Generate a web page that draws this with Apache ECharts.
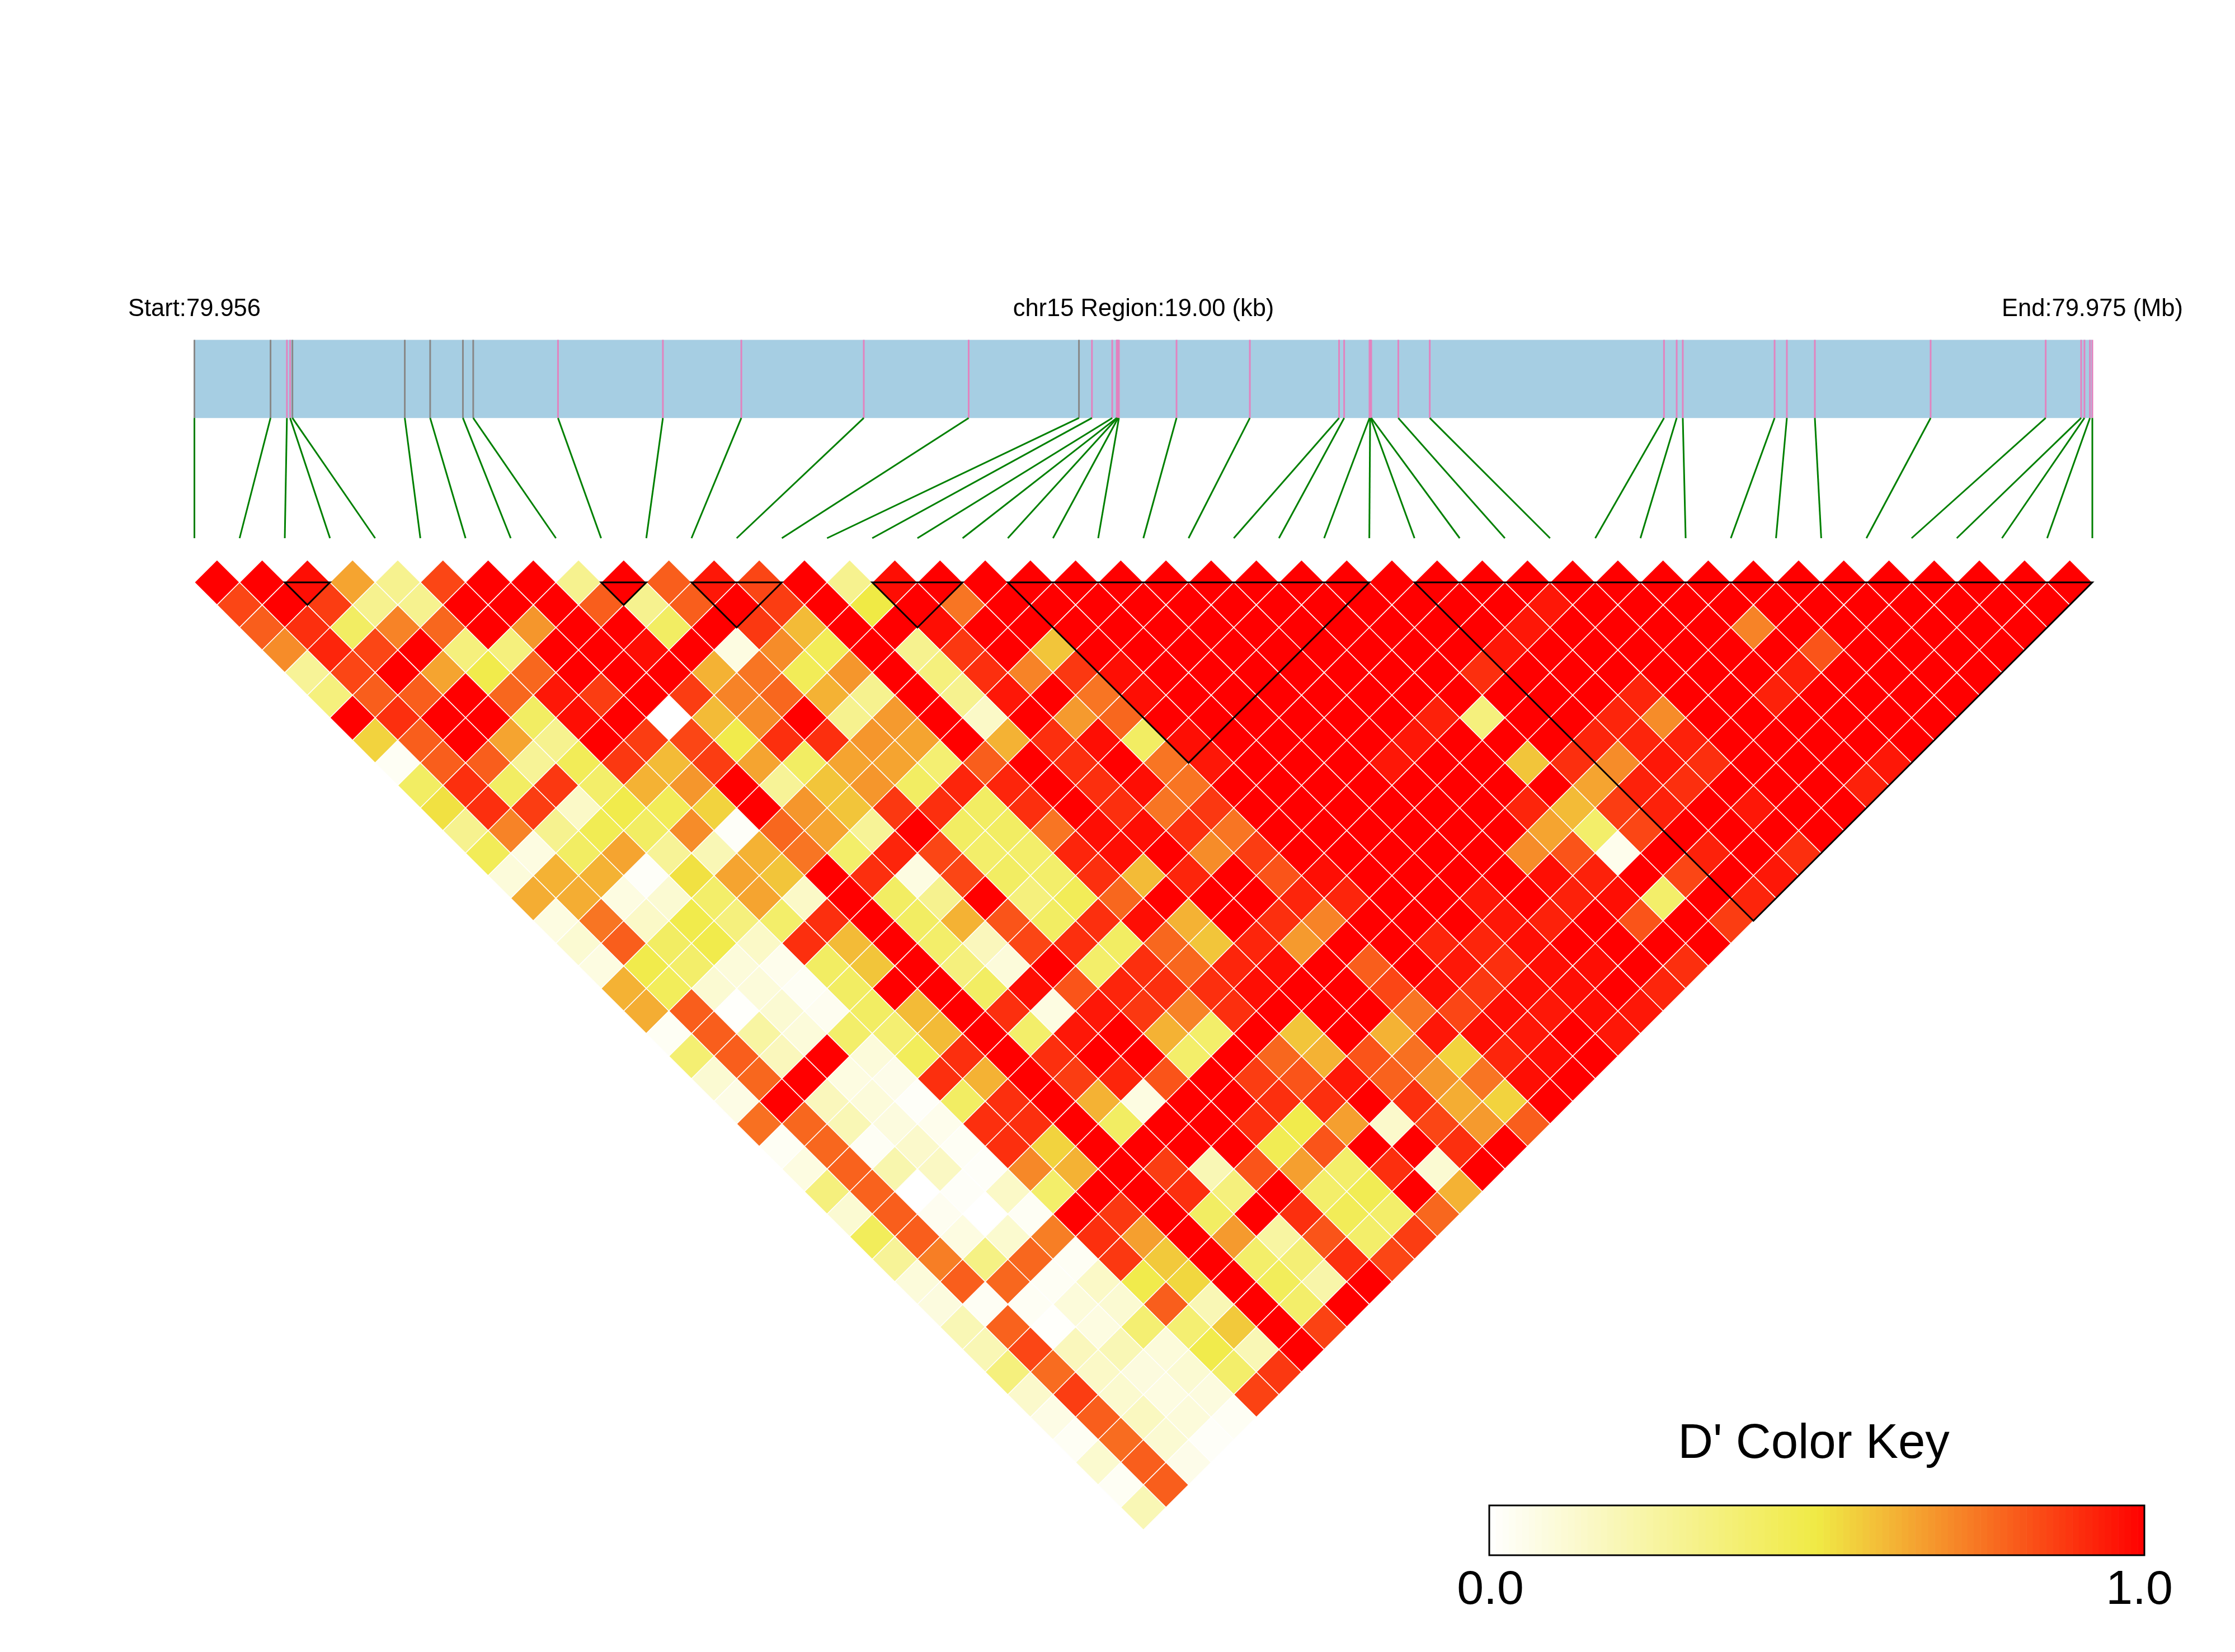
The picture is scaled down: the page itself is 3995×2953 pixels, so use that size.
<!DOCTYPE html>
<html>
<head>
<meta charset="utf-8">
<style>html,body{margin:0;padding:0;background:#fff}#c{width:3995px;height:2953px}</style>
<script src="https://cdn.jsdelivr.net/npm/echarts@6/dist/echarts.min.js"></script>
</head>
<body>
<div id="c"></div>
<script>
// SNP positions along the 19.00 kb region
const snpKb=[0,0.762,0.926,0.958,0.981,2.106,2.360,2.688,2.791,3.640,4.690,5.475,6.701,7.751,8.855,8.985,9.188,9.233,9.238,9.247,9.255,9.832,10.566,11.459,11.510,11.764,11.770,11.775,11.781,12.052,12.367,14.712,14.839,14.900,15.819,15.942,16.222,17.381,18.533,18.888,18.921,18.976,19.0];
const graySnps=[0,1,4,5,6,7,8,14];
const blockStart=[2,9,11,15,18,27];
const blockEnd=[3,10,13,17,26,42];
const startLabel='Start:79.956', midLabel='chr15 Region:19.00 (kb)', endLabel='End:79.975 (Mb)', keyTitle="D' Color Key";
const keyLowLabel='0.0', keyHighLabel='1.0';
const regionKb=19;
// D' x 100, by SNP separation (row 0 = neighbouring SNPs)
const row00=[100,100,97,65,30,85,100,100,30,100,80,95,85,100,30,97,100,100,100,100,100,100,100,100,100,100,100,100,100,100,100,100,100,100,100,100,100,100,100,100,100,100];
const row01=[85,100,87,30,30,100,100,100,80,30,80,100,87,100,50,100,75,100,100,100,100,100,100,100,100,100,100,100,100,95,100,100,100,100,100,100,100,100,100,100,100];
const row02=[80,90,42,72,78,100,68,100,100,42,100,88,60,100,100,97,100,100,100,100,100,100,100,100,100,100,100,100,95,100,100,100,100,72,100,100,100,100,100,100];
const row03=[70,92,85,100,35,35,100,100,97,100,8,70,45,100,30,88,100,58,100,100,100,100,100,100,100,100,100,95,100,100,100,100,100,100,82,100,100,100,100];
const row04=[28,85,100,65,48,78,100,100,100,62,75,45,68,100,35,90,72,88,97,100,100,100,100,100,100,100,90,100,100,100,100,100,100,93,100,100,100,100];
const row05=[35,80,80,100,78,95,87,100,87,72,78,62,30,100,30,95,100,75,97,100,100,100,100,100,100,100,100,100,100,92,100,100,93,100,100,100,100];
const row06=[100,90,100,100,42,97,100,0,60,70,100,30,67,100,15,100,67,78,100,100,100,100,100,100,93,35,100,100,92,70,100,100,100,100,100,100];
const row07=[55,80,100,65,30,100,87,85,48,90,90,68,65,100,62,90,97,42,97,100,100,100,100,95,100,100,100,92,92,93,100,100,100,100,100];
const row08=[3,80,80,28,45,88,60,87,65,42,65,65,38,80,100,90,100,75,95,100,100,100,95,100,100,58,90,70,95,90,100,100,100,95];
const row09=[42,90,42,88,40,62,68,100,28,58,68,42,92,92,100,90,97,75,100,100,100,100,100,100,100,100,65,93,90,100,100,100,93];
const row10=[52,90,87,15,48,45,55,100,68,58,88,90,42,90,100,90,75,88,100,100,100,100,100,100,92,60,87,93,100,95,100,100];
const row11=[30,72,30,46,42,70,2,78,65,28,100,42,42,75,97,97,90,75,100,100,100,100,100,100,65,40,85,100,100,100,100];
const row12=[45,8,42,65,28,20,62,75,40,92,85,40,40,92,97,100,70,87,100,100,100,100,100,70,82,5,100,93,100,90];
const row13=[10,62,62,2,52,65,58,100,90,8,85,42,40,90,60,92,100,82,97,100,100,100,100,97,93,100,85,100,95];
const row14=[63,63,8,12,40,65,15,100,42,30,100,35,45,78,100,100,100,92,92,100,100,95,100,93,97,40,100,92];
const row15=[8,75,15,48,35,40,90,100,42,62,82,42,90,97,62,100,90,72,100,100,100,95,93,100,82,100,87];
const row16=[12,80,42,48,15,90,60,100,40,18,85,90,42,78,58,92,67,100,100,92,92,97,100,100,100,100];
const row17=[8,48,40,10,5,42,58,100,35,10,100,40,90,78,92,97,100,80,100,95,90,97,97,100,90];
const row18=[62,44,12,10,3,42,100,100,42,97,82,92,90,90,97,100,100,85,97,88,97,97,100,92];
const row19=[63,80,1,12,4,42,60,100,90,8,95,88,72,90,100,100,100,75,85,97,95,97,95];
const row20=[3,80,25,10,40,38,60,100,40,95,100,62,40,100,58,100,62,95,97,95,100,95];
const row21=[38,80,18,100,10,44,90,100,90,100,100,40,100,78,62,82,76,55,92,97,100];
const row22=[12,78,100,8,6,90,62,100,87,92,82,100,87,82,95,79,68,75,97,100];
const row23=[7,100,18,10,2,42,90,100,62,8,100,100,90,90,100,90,63,55,100];
const row24=[76,78,20,9,5,90,90,100,42,100,100,90,48,66,14,85,67,80];
const row25=[3,78,3,14,3,90,55,100,100,100,100,46,82,100,100,90,100];
const row26=[8,79,22,16,2,71,62,100,87,20,82,66,40,90,12,100];
const row27=[35,79,0,2,15,40,100,100,90,35,100,40,46,100,62];
const row28=[12,80,4,0,3,100,88,100,42,100,90,45,40,78];
const row29=[44,80,8,13,73,90,66,100,67,25,82,40,87];
const row30=[28,73,33,78,3,88,57,100,40,37,90,85];
const row31=[10,80,78,3,15,48,54,100,44,23,100];
const row32=[9,3,3,10,12,80,20,100,40,100];
const row33=[20,79,1,8,38,38,57,100,86];
const row34=[20,85,18,20,10,48,20,100];
const row35=[35,77,15,9,12,40,88];
const row36=[14,87,13,8,9,86];
const row37=[7,80,17,10,3];
const row38=[3,77,12,2];
const row39=[13,80,6];
const row40=[3,80];
const row41=[20];
const rows=[row00,row01,row02,row03,row04,row05,row06,row07,row08,row09,row10,row11,row12,row13,row14,row15,row16,row17,row18,row19,row20,row21,row22,row23,row24,row25,row26,row27,row28,row29,row30,row31,row32,row33,row34,row35,row36,row37,row38,row39,row40,row41];
const keySteps=100;

const cellData=[];
rows.forEach((row,r)=>row.forEach((v,i)=>cellData.push([i,r,v/100])));
const keyData=[];
for(let k=0;k<keySteps;k++)keyData.push([k/keySteps,(k+1)/keySteps,(k+0.5)/keySteps]);
const nSnp=snpKb.length, lastSnp=nSnp-1;
const trackFloor=0.606;
const FONT='"Liberation Sans",Arial,sans-serif';
const textStyle=(text,size)=>({text,fontFamily:FONT,fontSize:size,fill:'#000',textAlign:'center',textVerticalAlign:'middle'});

const option={
  animation:false,
  backgroundColor:'#fff',
  graphic:[
    {type:'text',x:347.5,y:553,style:textStyle(startLabel,43.5)},
    {type:'text',x:2044,y:553,style:textStyle(midLabel,43.5)},
    {type:'text',x:3740,y:553,style:textStyle(endLabel,43.5)},
    {type:'text',x:3242,y:2582,style:textStyle(keyTitle,87)},
    {type:'text',x:2664,y:2843,style:textStyle(keyLowLabel,86)},
    {type:'text',x:3824,y:2843,style:textStyle(keyHighLabel,86)}
  ],
  grid:[
    {left:347.5,top:607.5,width:3392.5,height:354.5,show:false},
    {left:347.5,top:1000.7,width:3392.5,height:1734.2,show:false},
    {left:2662,top:2691,width:1171,height:89,show:false}
  ],
  xAxis:[
    {gridIndex:0,type:'value',min:0,max:regionKb,show:false},
    {gridIndex:1,type:'value',min:0,max:lastSnp,show:false},
    {gridIndex:2,type:'value',min:0,max:1,show:false}
  ],
  yAxis:[
    {gridIndex:0,type:'value',min:0,max:1,show:false},
    {gridIndex:1,type:'value',min:-1,max:lastSnp,inverse:true,show:false},
    {gridIndex:2,type:'value',min:0,max:1,show:false}
  ],
  visualMap:{show:false,type:'continuous',min:0,max:1,dimension:2,seriesIndex:[3,5],inRange:{color:['#FFFFFF','#F0EA45','#FF0000']}},
  series:[
    {type:'custom',name:'track',xAxisIndex:0,yAxisIndex:0,silent:true,clip:false,data:[[0,regionKb]],
     renderItem:(p,api)=>{const a=api.coord([api.value(0),1]),b=api.coord([api.value(1),trackFloor]);
       return {type:'rect',shape:{x:a[0],y:a[1],width:b[0]-a[0],height:b[1]-a[1]},style:{fill:'#A6CEE3'}};}},
    {type:'custom',name:'snp marks',xAxisIndex:0,yAxisIndex:0,silent:true,clip:false,
     data:snpKb.map((p,i)=>[p,i]),
     renderItem:(p,api)=>{const a=api.coord([api.value(0),1]),b=api.coord([api.value(0),trackFloor]);
       return {type:'line',shape:{x1:a[0],y1:a[1],x2:b[0],y2:b[1]},
         style:{stroke:graySnps.includes(api.value(1))?'#888888':'#E283BF',lineWidth:3}};}},
    {type:'custom',name:'snp connectors',xAxisIndex:0,yAxisIndex:0,silent:true,clip:false,
     data:snpKb.map((p,i)=>[p,i*regionKb/lastSnp]),
     renderItem:(p,api)=>{const a=api.coord([api.value(0),trackFloor]),b=api.coord([api.value(1),0]);
       return {type:'line',shape:{x1:a[0],y1:a[1],x2:b[0],y2:b[1]},style:{stroke:'#008000',lineWidth:3}};}},
    {type:'custom',name:"D'",xAxisIndex:1,yAxisIndex:1,silent:true,clip:false,data:cellData,z:2,
     renderItem:(p,api)=>{const i=api.value(0),r=api.value(1),c=i+(r+1)/2;
       const pts=[[c-0.5,r],[c,r-1],[c+0.5,r],[c,r+1]].map(q=>api.coord(q));
       return {type:'polygon',shape:{points:pts},style:{fill:api.visual('color'),stroke:'#FFFFFF',lineWidth:1.5}};}},
    {type:'custom',name:'blocks',xAxisIndex:1,yAxisIndex:1,silent:true,clip:false,z:3,
     data:blockStart.map((s,k)=>[s,blockEnd[k]]),
     renderItem:(p,api)=>{const a=api.value(0),b=api.value(1);
       const pts=[[a,0],[b,0],[(a+b)/2,b-a]].map(q=>api.coord(q));
       return {type:'polygon',shape:{points:pts},style:{fill:'none',stroke:'#000',lineWidth:3}};}},
    {type:'custom',name:'key',xAxisIndex:2,yAxisIndex:2,silent:true,clip:false,data:keyData,z:2,
     renderItem:(p,api)=>{const a=api.coord([api.value(0),1]),b=api.coord([api.value(1),0]);
       return {type:'rect',shape:{x:a[0],y:a[1],width:b[0]-a[0]+0.6,height:b[1]-a[1]},style:{fill:api.visual('color')}};}},
    {type:'custom',name:'key frame',xAxisIndex:2,yAxisIndex:2,silent:true,clip:false,data:[[0,1]],z:3,
     renderItem:(p,api)=>{const a=api.coord([api.value(0),1]),b=api.coord([api.value(1),0]);
       return {type:'rect',shape:{x:a[0],y:a[1],width:b[0]-a[0],height:b[1]-a[1]},style:{fill:'none',stroke:'#000',lineWidth:3}};}}
  ]
};
echarts.init(document.getElementById('c'),null,{renderer:'canvas'}).setOption(option);
</script>
</body>
</html>
